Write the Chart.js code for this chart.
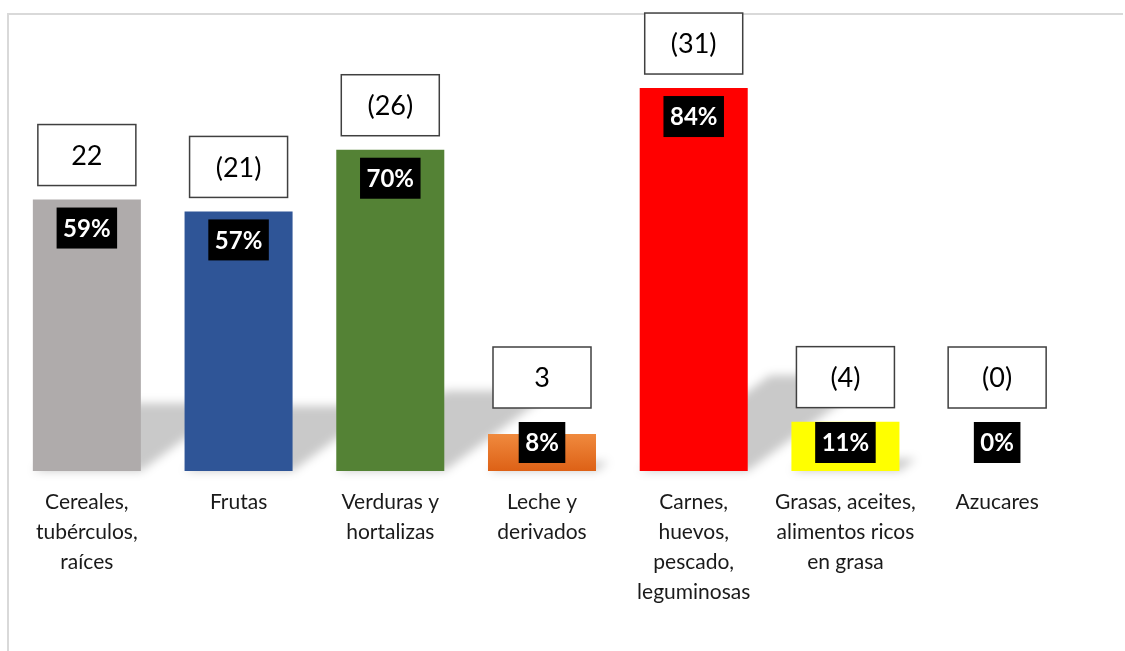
<!DOCTYPE html>
<html>
<head>
<meta charset="utf-8">
<script src="https://cdn.jsdelivr.net/npm/chart.js@4.4.1/dist/chart.umd.min.js"></script>
<style>
  html, body { margin: 0; padding: 0; background: #ffffff; }
  #wrap { position: relative; width: 1125px; height: 651px; overflow: hidden; }
  #frame { position: absolute; left: 7px; top: 13px; width: 1116px; height: 700px;
           border-left: 2px solid #d9d9d9; border-top: 2px solid #d9d9d9; box-sizing: border-box; }
  canvas { position: absolute; left: 0; top: 0; }
</style>
</head>
<body>
<div id="wrap">
  <div id="frame"></div>
  <canvas id="c" width="1125" height="651"></canvas>
</div>
<script>
// ---- data ----
const categories = [
  ["Cereales,", "tubérculos,", "raíces"],
  ["Frutas"],
  ["Verduras y", "hortalizas"],
  ["Leche y", "derivados"],
  ["Carnes,", "huevos,", "pescado,", "leguminosas"],
  ["Grasas, aceites,", "alimentos ricos", "en grasa"],
  ["Azucares"]
];
const percentValues = [59.4, 56.8, 70.3, 8.1, 83.8, 10.8, 0];
const countLabels = ["22", "(21)", "(26)", "3", "(31)", "(4)", "(0)"];
const barColors = ["#AFABAB", "#2F5597", "#548235", "#ED7D31", "#FF0000", "#FFFF00", "#7F7F7F"];

const FONT = "Lato, 'Open Sans', sans-serif";

const shadowPlugin = {
  id: 'persp-shadow',
  beforeDatasetsDraw(chart) {
    const ctx = chart.ctx;
    const meta = chart.getDatasetMeta(0);
    ctx.save();
    ctx.filter = 'blur(5px)';
    ctx.fillStyle = 'rgba(0,0,0,0.21)';
    meta.data.forEach((el) => {
      const h = el.base - el.y;
      if (h <= 0) return;
      const x0 = el.x - el.width / 2, x1 = el.x + el.width / 2;
      const sh = 0.25 * h, shift = 0.34 * h;
      ctx.beginPath();
      ctx.moveTo(x0, el.base);
      ctx.lineTo(x1, el.base);
      ctx.lineTo(x1 + shift, el.base - sh);
      ctx.lineTo(x0 + shift, el.base - sh);
      ctx.closePath();
      ctx.fill();
    });
    ctx.restore();
  }
};

const labelPlugin = {
  id: 'box-labels',
  afterDatasetsDraw(chart) {
    const ctx = chart.ctx;
    const meta = chart.getDatasetMeta(0);
    const ds = chart.data.datasets[0];
    ctx.save();
    meta.data.forEach((el, i) => {
      const base = el.base;
      const top = el.y;
      // percentage label
      ctx.font = "bold 24px " + FONT;
      const pText = Math.round(ds.data[i]) + '%';
      const tw = ctx.measureText(pText).width;
      const bw = tw + 13, bh = 41;
      const by = Math.min(top + 8, base - 49);
      ctx.fillStyle = '#000000';
      ctx.fillRect(el.x - bw / 2, by, bw, bh);
      ctx.fillStyle = '#ffffff';
      ctx.textAlign = 'center';
      ctx.textBaseline = 'middle';
      ctx.fillText(pText, el.x, by + bh / 2 + 1);
      // count box
      const cw = 98, ch = 61;
      const cb = Math.min(top, base - 49) - 14;
      const cx = el.x - cw / 2, cy = cb - ch;
      ctx.fillStyle = '#ffffff';
      ctx.fillRect(cx, cy, cw, ch);
      ctx.strokeStyle = '#404040';
      ctx.lineWidth = 1.5;
      ctx.strokeRect(cx, cy, cw, ch);
      ctx.fillStyle = '#000000';
      ctx.font = "27px " + FONT;
      ctx.fillText(countLabels[i], el.x, cy + ch / 2 + 1);
    });
    ctx.restore();
  }
};

new Chart(document.getElementById('c'), {
  type: 'bar',
  data: {
    labels: categories,
    datasets: [{
      data: percentValues,
      backgroundColor: (c) => {
        const i = c.dataIndex;
        const ys = c.chart.scales && c.chart.scales.y;
        if (i === 3 && ys && isFinite(ys.getPixelForValue(0))) {
          const y0 = ys.getPixelForValue(c.raw);
          const y1 = ys.getPixelForValue(0);
          if (isFinite(y0) && y1 > y0) {
            const g = c.chart.ctx.createLinearGradient(0, y0, 0, y1);
            g.addColorStop(0, '#F08A3E');
            g.addColorStop(1, '#DD6116');
            return g;
          }
        }
        return barColors[i];
      },
      borderWidth: 0,
      barPercentage: 0.712,
      categoryPercentage: 1.0
    }]
  },
  options: {
    responsive: false,
    animation: false,
    events: [],
    layout: { padding: { left: 11, right: 52, top: 14, bottom: 28 } },
    plugins: { legend: { display: false }, tooltip: { enabled: false } },
    scales: {
      x: {
        grid: { display: false, drawTicks: false },
        border: { display: false },
        ticks: {
          color: '#1a1a1a',
          font: { family: FONT, size: 21, lineHeight: '30px' },
          padding: 16,
          maxRotation: 0,
          autoSkip: false
        }
      },
      y: {
        display: false,
        min: 0,
        max: 100
      }
    }
  },
  plugins: [shadowPlugin, labelPlugin]
});
</script>
</body>
</html>
